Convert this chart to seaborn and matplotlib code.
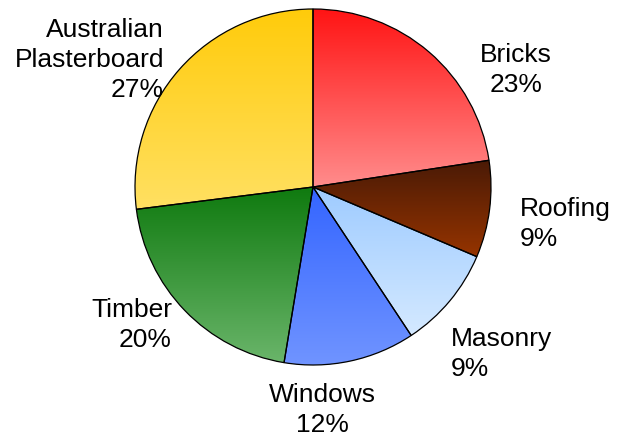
import numpy as np
import matplotlib
matplotlib.use("Agg")
import matplotlib.pyplot as plt
import seaborn as sns
from matplotlib.colors import LinearSegmentedColormap

sns.set_theme(style="white")
plt.rcParams['font.family'] = ['Liberation Sans', 'DejaVu Sans']

# Data
categories = ["Bricks", "Roofing", "Masonry", "Windows", "Timber", "Australian\nPlasterboard"]
shares = [22.6, 8.8, 9.3, 11.9, 20.4, 27.0]

# Style: vertical gradient (top colour, bottom colour) per slice
grad_top = ["#FF1414", "#4A1A06", "#9ECBFF", "#3465FF", "#0F7A0F", "#FFCB0A"]
grad_bot = ["#FF8C8C", "#963400", "#D4E9FF", "#7094FF", "#6AB56A", "#FFE062"]

W, H = 624, 437
fig = plt.figure(figsize=(W / 100, H / 100), dpi=100)
ax = fig.add_axes([0, 0, 1, 1])

cx, cy, r = 313, H - 187, 178
wedges, _ = ax.pie(shares, center=(cx, cy), radius=r, startangle=90,
                   counterclock=False, frame=True,
                   wedgeprops=dict(facecolor='none', edgecolor='black', linewidth=0.9, zorder=3))
ax.set_xlim(0, W)
ax.set_ylim(0, H)
ax.set_aspect('equal')
ax.axis('off')

for w, c0, c1 in zip(wedges, grad_top, grad_bot):
    bb = w.get_path().get_extents()
    cmap = LinearSegmentedColormap.from_list('g', [c0, c1])
    grad = np.linspace(0, 1, 256).reshape(-1, 1)
    im = ax.imshow(grad, cmap=cmap, aspect='auto', origin='upper',
                   extent=(bb.x0, bb.x1, bb.y0, bb.y1), zorder=2, interpolation='bilinear')
    im.set_clip_path(w)

# Labels: (x, baseline of first line in px from top, alignment)
label_pos = [(516, 62, 'center'), (520, 216, 'left'), (451, 346, 'left'),
             (322, 402, 'center'), (172, 317, 'right'), (164, 37, 'right')]
line_gap = 30
for cat, val, (x, y, ha) in zip(categories, shares, label_pos):
    lines = cat.split("\n") + [f"{round(val):d}%"]
    for i, ln in enumerate(lines):
        ax.text(x, H - (y + i * line_gap), ln, ha=ha, va='baseline', fontsize=19, color='black')

fig.savefig("out.png", dpi=100)
